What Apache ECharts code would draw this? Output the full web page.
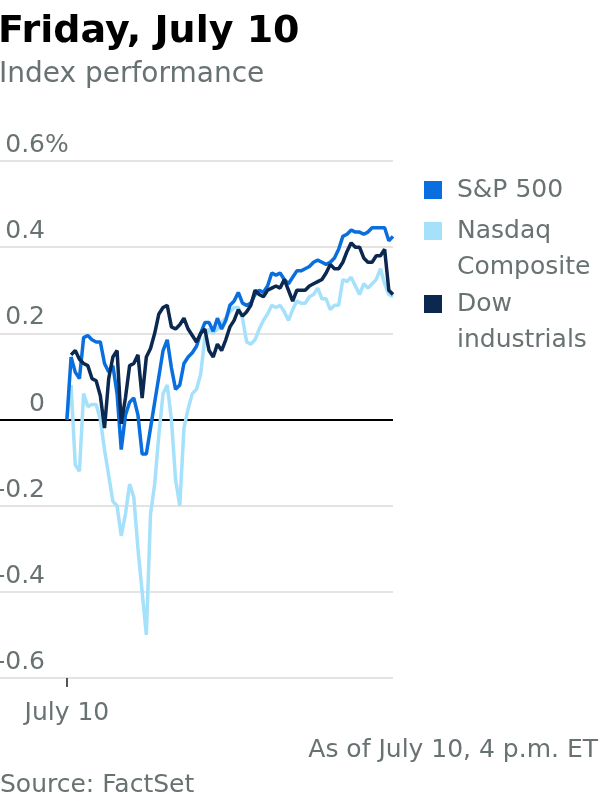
<!DOCTYPE html>
<html>
<head>
<meta charset="utf-8">
<script src="https://cdn.jsdelivr.net/npm/echarts@6/dist/echarts.min.js"></script>
<style>
  html, body { margin: 0; padding: 0; background: #fff; }
  #chart { width: 600px; height: 800px; }
</style>
</head>
<body>
<div id="chart"></div>
<script>
// 5-minute readings from 9:30 to 16:00, % change on the day
const spx = [
  0, 0.145, 0.11, 0.095, 0.19, 0.195, 0.185, 0.18, 0.18, 0.13,
  0.11, 0.125, 0.06, -0.07, 0.01, 0.04, 0.05, 0.01, -0.08, -0.08,
  -0.02, 0.04, 0.1, 0.16, 0.185, 0.12, 0.07, 0.08, 0.13, 0.145,
  0.155, 0.17, 0.2, 0.225, 0.225, 0.205, 0.235, 0.21, 0.23, 0.265,
  0.275, 0.295, 0.27, 0.265, 0.27, 0.29, 0.3, 0.295, 0.31, 0.34,
  0.335, 0.34, 0.325, 0.315, 0.33, 0.345, 0.345, 0.35, 0.355, 0.365,
  0.37, 0.365, 0.36, 0.365, 0.375, 0.395, 0.425, 0.43, 0.44, 0.435,
  0.435, 0.43, 0.435, 0.445, 0.445, 0.445, 0.445, 0.415, 0.425
];
const nasdaq = [
  0, 0.08, -0.105, -0.12, 0.06, 0.03, 0.035, 0.035, 0, -0.07,
  -0.13, -0.19, -0.2, -0.27, -0.22, -0.15, -0.18, -0.3, -0.4, -0.5,
  -0.22, -0.15, -0.035, 0.06, 0.08, 0, -0.14, -0.2, -0.02, 0.025,
  0.06, 0.07, 0.105, 0.19, 0.21, 0.2, 0.21, 0.225, 0.235, 0.25,
  0.26, 0.26, 0.235, 0.18, 0.175, 0.185, 0.21, 0.23, 0.245, 0.265,
  0.26, 0.265, 0.25, 0.23, 0.255, 0.275, 0.27, 0.27, 0.285, 0.29,
  0.305, 0.28, 0.28, 0.255, 0.265, 0.265, 0.325, 0.32, 0.33, 0.31,
  0.29, 0.315, 0.305, 0.315, 0.325, 0.35, 0.315, 0.29, 0.285
];
const dow = [
  null, 0.15, 0.16, 0.14, 0.13, 0.125, 0.095, 0.09, 0.055, -0.02,
  0.095, 0.145, 0.16, -0.01, 0.05, 0.125, 0.13, 0.15, 0.05, 0.145,
  0.165, 0.2, 0.245, 0.26, 0.265, 0.215, 0.21, 0.22, 0.235, 0.21,
  0.195, 0.18, 0.2, 0.21, 0.16, 0.145, 0.175, 0.16, 0.185, 0.215,
  0.23, 0.255, 0.24, 0.25, 0.265, 0.3, 0.29, 0.285, 0.3, 0.305,
  0.31, 0.305, 0.325, 0.3, 0.275, 0.3, 0.3, 0.3, 0.31, 0.315,
  0.32, 0.325, 0.34, 0.36, 0.35, 0.35, 0.365, 0.39, 0.41, 0.4,
  0.4, 0.375, 0.365, 0.365, 0.38, 0.38, 0.395, 0.3, 0.29
];
const seriesNames = ['S&P 500', 'Nasdaq Composite', 'Dow industrials'];
// how each legend entry breaks (blank first line keeps the icon on the first text line)
const legendLabels = {
  'S&P 500': 'S&P 500',
  'Nasdaq Composite': '\nNasdaq\nComposite',
  'Dow industrials': '\nDow\nindustrials'
};
const colors = ['#0a6fde', '#a5e1fb', '#0b2850'];
const yTicks = [-0.6, -0.4, -0.2, 0, 0.2, 0.4, 0.6];

const FONT = 'DejaVu Sans';
const GREY = '#687272';

const toPoints = arr => arr.map((v, i) => [i, v]);

const chart = echarts.init(document.getElementById('chart'));

const legendItem = (name, top) => ({
  data: [name],
  left: 424,
  top: top,
  padding: 0,
  orient: 'vertical',
  icon: 'rect',
  itemWidth: 18,
  itemHeight: 18,
  selectedMode: false,
  formatter: n => legendLabels[n],
  textStyle: {
    fontFamily: FONT,
    fontSize: 25,
    lineHeight: 36,
    color: GREY,
    padding: [0, 0, 0, 10]
  }
});

chart.setOption({
  animation: false,
  title: [
    {
      text: 'Friday, July 10',
      left: -2,
      top: 13,
      padding: 0,
      textStyle: { fontFamily: FONT, fontSize: 38, fontWeight: 'bold', color: '#000', lineHeight: 38 }
    },
    {
      text: 'Index performance',
      left: -1,
      top: 61,
      padding: 0,
      textStyle: { fontFamily: FONT, fontSize: 28, fontWeight: 'normal', color: GREY, lineHeight: 28 }
    },
    {
      text: 'As of July 10, 4 p.m. ET',
      right: 2,
      top: 738,
      padding: 0,
      textStyle: { fontFamily: FONT, fontSize: 25, fontWeight: 'normal', color: GREY, lineHeight: 25 }
    },
    {
      text: 'Source: FactSet',
      left: 0,
      top: 773,
      padding: 0,
      textStyle: { fontFamily: FONT, fontSize: 25, fontWeight: 'normal', color: GREY, lineHeight: 25 }
    }
  ],
  // the % sign hangs to the right of the top tick label
  graphic: [
    {
      type: 'text',
      x: 45,
      y: 145.5,
      style: { text: '%', align: 'left', verticalAlign: 'middle', font: '25px "DejaVu Sans"', fill: GREY }
    }
  ],
  legend: [
    legendItem(seriesNames[0], 172),
    legendItem(seriesNames[1], 177),
    legendItem(seriesNames[2], 250)
  ],
  grid: { left: 0, right: 207, top: 161, bottom: 122, containLabel: false, outerBoundsMode: 'none' },
  xAxis: {
    type: 'value',
    min: -16,
    max: 78,
    splitLine: { show: false },
    axisLine: { show: false, onZero: false },
    axisTick: {
      show: true,
      customValues: [0],
      length: 9,
      lineStyle: { color: '#555', width: 2 }
    },
    axisLabel: {
      customValues: [0],
      formatter: () => 'July 10',
      fontFamily: FONT,
      fontSize: 25,
      color: GREY,
      margin: 23
    }
  },
  yAxis: {
    type: 'value',
    min: -0.6,
    max: 0.6,
    interval: 0.2,
    axisLine: { show: false },
    axisTick: { show: false },
    splitLine: {
      lineStyle: {
        width: 2,
        color: yTicks.map(t => (t === 0 ? '#000' : '#e3e3e3'))
      }
    },
    axisLabel: {
      inside: true,
      margin: 45,
      align: 'right',
      verticalAlign: 'bottom',
      lineHeight: 25,
      padding: [0, 0, 3, 0],
      fontFamily: FONT,
      fontSize: 25,
      color: GREY,
      formatter: v => String(Math.round(v * 10) / 10)
    }
  },
  series: [
    {
      name: seriesNames[1],
      type: 'line',
      data: toPoints(nasdaq),
      showSymbol: false,
      color: colors[1],
      lineStyle: { width: 3.5, color: colors[1] },
      z: 2
    },
    {
      name: seriesNames[0],
      type: 'line',
      data: toPoints(spx),
      showSymbol: false,
      color: colors[0],
      lineStyle: { width: 3.5, color: colors[0] },
      z: 3
    },
    {
      name: seriesNames[2],
      type: 'line',
      data: toPoints(dow),
      showSymbol: false,
      color: colors[2],
      lineStyle: { width: 3.5, color: colors[2] },
      z: 4
    }
  ]
});
</script>
</body>
</html>
